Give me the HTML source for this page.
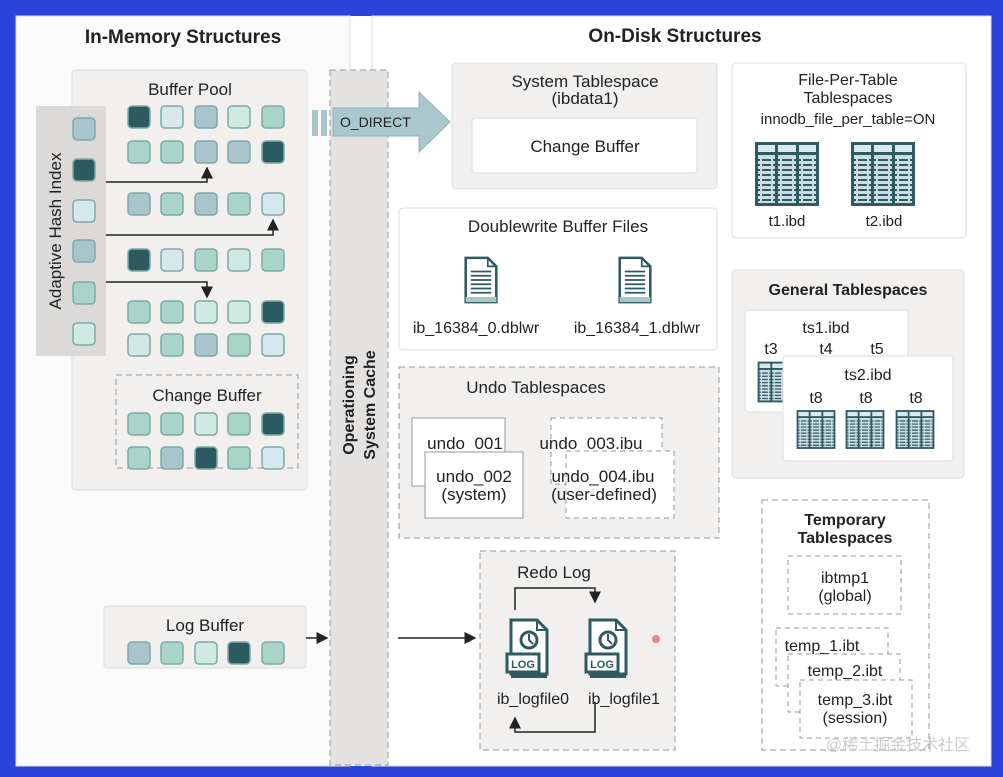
<!DOCTYPE html>
<html><head><meta charset="utf-8"><style>
html,body{margin:0;padding:0;background:#2a45d8;}
svg{display:block;}
text{font-family:"Liberation Sans",Arial,sans-serif;fill:#222;}
.b{font-weight:bold;}
</style></head><body>
<svg width="1003" height="777" viewBox="0 0 1003 777" xmlns="http://www.w3.org/2000/svg">
<defs>
<symbol id="tbl" viewBox="0 0 66 66">
<rect x="1" y="1" width="64" height="64" fill="#2f5a60"/>
<rect x="4" y="4" width="17" height="7" fill="#d8eaef"/><rect x="24" y="4" width="18" height="7" fill="#d8eaef"/><rect x="45" y="4" width="17" height="7" fill="#d8eaef"/>
<rect x="4" y="14" width="17" height="48" fill="#c9dde3"/><rect x="24" y="14" width="18" height="48" fill="#c9dde3"/><rect x="45" y="14" width="17" height="48" fill="#c9dde3"/>
<g stroke="#2f5a60" stroke-width="2">
<path d="M4 19H62M4 24H62M4 29H62M4 34H62M4 39H62M4 44H62M4 49H62M4 54H62M4 59H62"/></g>
<path d="M7 14V62M18 14V62M27 14V62M39 14V62M48 14V62M59 14V62" stroke="#c9dde3" stroke-width="2"/>
</symbol>
<symbol id="doc" viewBox="0 0 40 56">
<path d="M2 2H28L38 12V54H2Z" fill="#fff" stroke="#2f5a60" stroke-width="3"/>
<path d="M28 2V12H38" fill="none" stroke="#2f5a60" stroke-width="2"/>
<path d="M8 18H32M8 23H32M8 28H32M8 33H32M8 38H32M8 43H32" stroke="#2f5a60" stroke-width="2"/>
<rect x="2" y="48" width="36" height="6" fill="#a9c7c6"/>
</symbol>
<symbol id="log" viewBox="0 0 46 62">
<path d="M6 2H32L42 12V56H6Z" fill="#fff" stroke="#2f5a60" stroke-width="3"/>
<path d="M32 2V12H42" fill="none" stroke="#2f5a60" stroke-width="2"/>
<circle cx="24" cy="22" r="8" fill="none" stroke="#2f5a60" stroke-width="3"/>
<path d="M24 16V22L28 26" stroke="#2f5a60" stroke-width="2" fill="none"/>
<rect x="2" y="36" width="32" height="18" fill="#fff" stroke="#2f5a60" stroke-width="3"/>
<text x="18" y="50" font-size="11" text-anchor="middle" class="b" style="fill:#2f5a60">LOG</text>
<rect x="6" y="56" width="36" height="4" fill="#2f5a60"/>
</symbol>
<marker id="ar" markerWidth="8" markerHeight="8" refX="7" refY="4" orient="auto"><path d="M0 0L8 4L0 8Z" fill="#222"/></marker>
</defs>
<!-- frame -->
<rect x="16" y="16" width="975" height="750" fill="#fff"/>
<rect x="16" y="16" width="334" height="750" fill="#fafafa" stroke="#ddd"/>
<rect x="372" y="16" width="619" height="750" fill="#fff" stroke="#ddd"/>
<text x="183" y="43" font-size="19" class="b" text-anchor="middle">In-Memory Structures</text>
<text x="675" y="42" font-size="19" class="b" text-anchor="middle">On-Disk Structures</text>

<!-- buffer pool -->
<rect x="72" y="70" width="235" height="420" rx="4" fill="#f1f0ef" stroke="#ddd"/>
<text x="190" y="95" font-size="17" text-anchor="middle">Buffer Pool</text>
<rect x="36" y="106" width="70" height="250" fill="#dcdad8"/>
<text transform="translate(61,231) rotate(-90)" font-size="17" text-anchor="middle">Adaptive Hash Index</text>
<g stroke-width="1.5" stroke="#7fa9a6">
<rect x="73" y="118" width="22" height="22" rx="4" fill="#a9c4cc"/>
<rect x="73" y="159" width="22" height="22" rx="4" fill="#2b5a60"/>
<rect x="73" y="200" width="22" height="22" rx="4" fill="#d6e8ee"/>
<rect x="73" y="240" width="22" height="22" rx="4" fill="#a9c4cc"/>
<rect x="73" y="282" width="22" height="22" rx="4" fill="#a9d5c9"/>
<rect x="73" y="323" width="22" height="22" rx="4" fill="#cfeae3"/>
</g>
<g stroke-width="1.5" stroke="#7fa9a6">
<!-- row1 y106 -->
<rect x="128" y="106" width="22" height="22" rx="4" fill="#2b5a60"/><rect x="161" y="106" width="22" height="22" rx="4" fill="#d6e8ee"/><rect x="195" y="106" width="22" height="22" rx="4" fill="#a9c4cc"/><rect x="228" y="106" width="22" height="22" rx="4" fill="#cfeae3"/><rect x="262" y="106" width="22" height="22" rx="4" fill="#a9d5c9"/>
<rect x="128" y="141" width="22" height="22" rx="4" fill="#a9d5c9"/><rect x="161" y="141" width="22" height="22" rx="4" fill="#a9d5c9"/><rect x="195" y="141" width="22" height="22" rx="4" fill="#a9c4cc"/><rect x="228" y="141" width="22" height="22" rx="4" fill="#a9c4cc"/><rect x="262" y="141" width="22" height="22" rx="4" fill="#2b5a60"/>
<rect x="128" y="193" width="22" height="22" rx="4" fill="#a9c4cc"/><rect x="161" y="193" width="22" height="22" rx="4" fill="#a9d5c9"/><rect x="195" y="193" width="22" height="22" rx="4" fill="#a9c4cc"/><rect x="228" y="193" width="22" height="22" rx="4" fill="#a9d5c9"/><rect x="262" y="193" width="22" height="22" rx="4" fill="#d6e8ee"/>
<rect x="128" y="249" width="22" height="22" rx="4" fill="#2b5a60"/><rect x="161" y="249" width="22" height="22" rx="4" fill="#d6e8ee"/><rect x="195" y="249" width="22" height="22" rx="4" fill="#a9d5c9"/><rect x="228" y="249" width="22" height="22" rx="4" fill="#cfeae3"/><rect x="262" y="249" width="22" height="22" rx="4" fill="#a9d5c9"/>
<rect x="128" y="301" width="22" height="22" rx="4" fill="#a9d5c9"/><rect x="161" y="301" width="22" height="22" rx="4" fill="#a9d5c9"/><rect x="195" y="301" width="22" height="22" rx="4" fill="#cfeae3"/><rect x="228" y="301" width="22" height="22" rx="4" fill="#cfeae3"/><rect x="262" y="301" width="22" height="22" rx="4" fill="#2b5a60"/>
<rect x="128" y="334" width="22" height="22" rx="4" fill="#cfeae3"/><rect x="161" y="334" width="22" height="22" rx="4" fill="#a9d5c9"/><rect x="195" y="334" width="22" height="22" rx="4" fill="#a9c4cc"/><rect x="228" y="334" width="22" height="22" rx="4" fill="#a9d5c9"/><rect x="262" y="334" width="22" height="22" rx="4" fill="#d6e8ee"/>
</g>
<g stroke="#222" stroke-width="1.5" fill="none">
<path d="M106 182H207V168" marker-end="url(#ar)"/>
<path d="M106 235H273V220" marker-end="url(#ar)"/>
<path d="M106 282H207V297" marker-end="url(#ar)"/>
</g>
<!-- change buffer -->
<rect x="116" y="375" width="182" height="93" fill="#f1f0ef" stroke="#999" stroke-dasharray="6,4"/>
<text x="207" y="401" font-size="17" text-anchor="middle">Change Buffer</text>
<g stroke-width="1.5" stroke="#7fa9a6">
<rect x="128" y="413" width="22" height="22" rx="4" fill="#a9d5c9"/><rect x="161" y="413" width="22" height="22" rx="4" fill="#a9d5c9"/><rect x="195" y="413" width="22" height="22" rx="4" fill="#cfeae3"/><rect x="228" y="413" width="22" height="22" rx="4" fill="#a9d5c9"/><rect x="262" y="413" width="22" height="22" rx="4" fill="#2b5a60"/>
<rect x="128" y="447" width="22" height="22" rx="4" fill="#a9d5c9"/><rect x="161" y="447" width="22" height="22" rx="4" fill="#a9c4cc"/><rect x="195" y="447" width="22" height="22" rx="4" fill="#2b5a60"/><rect x="228" y="447" width="22" height="22" rx="4" fill="#a9d5c9"/><rect x="262" y="447" width="22" height="22" rx="4" fill="#d6e8ee"/>
</g>
<!-- log buffer -->
<rect x="104" y="606" width="202" height="62" rx="3" fill="#f1f0ef" stroke="#ddd"/>
<text x="205" y="631" font-size="17" text-anchor="middle">Log Buffer</text>
<g stroke-width="1.5" stroke="#7fa9a6">
<rect x="128" y="642" width="22" height="22" rx="4" fill="#a9c4cc"/><rect x="161" y="642" width="22" height="22" rx="4" fill="#a9d5c9"/><rect x="195" y="642" width="22" height="22" rx="4" fill="#cfeae3"/><rect x="228" y="642" width="22" height="22" rx="4" fill="#2b5a60"/><rect x="262" y="642" width="22" height="22" rx="4" fill="#a9d5c9"/>
</g>
<path d="M306 638H327" stroke="#222" stroke-width="1.5" marker-end="url(#ar)"/>
<path d="M398 638H475" stroke="#222" stroke-width="1.5" marker-end="url(#ar)"/>

<!-- OS cache -->
<rect x="330" y="70" width="58" height="695" fill="#e4e2e0" stroke="#999" stroke-dasharray="6,4"/>
<text transform="translate(354,405) rotate(-90)" font-size="16" class="b" text-anchor="middle">Operationing</text>
<text transform="translate(375,405) rotate(-90)" font-size="16" class="b" text-anchor="middle">System Cache</text>
<!-- O_DIRECT -->
<rect x="312" y="110" width="6" height="26" fill="#a9c7cd"/><rect x="321" y="110" width="6" height="26" fill="#a9c7cd"/>
<path d="M333 108H419V92L450 122L419 152V136H333Z" fill="#a9c7cd" stroke="#8fb1b8"/>
<text x="340" y="127" font-size="14">O_DIRECT</text>

<!-- System tablespace -->
<rect x="452" y="63" width="265" height="126" rx="4" fill="#f1f0ef" stroke="#ddd"/>
<text x="585" y="87" font-size="17" text-anchor="middle">System Tablespace</text>
<text x="585" y="104" font-size="17" text-anchor="middle">(ibdata1)</text>
<rect x="472" y="118" width="225" height="55" rx="3" fill="#fff" stroke="#ddd"/>
<text x="585" y="152" font-size="17" text-anchor="middle">Change Buffer</text>

<!-- file per table -->
<rect x="732" y="63" width="234" height="175" rx="4" fill="#fff" stroke="#ddd"/>
<text x="848" y="85" font-size="16" class="b" text-anchor="middle" style="font-weight:normal">File-Per-Table</text>
<text x="848" y="103" font-size="16" text-anchor="middle">Tablespaces</text>
<text x="848" y="124" font-size="15" text-anchor="middle">innodb_file_per_table=ON</text>
<use href="#tbl" x="754" y="141" width="66" height="66"/>
<use href="#tbl" x="850" y="141" width="66" height="66"/>
<text x="787" y="226" font-size="15" text-anchor="middle">t1.ibd</text>
<text x="884" y="226" font-size="15" text-anchor="middle">t2.ibd</text>

<!-- doublewrite -->
<rect x="399" y="208" width="318" height="142" rx="4" fill="#fff" stroke="#ddd"/>
<text x="558" y="232" font-size="17" text-anchor="middle">Doublewrite Buffer Files</text>
<use href="#doc" x="464" y="255" width="34" height="50"/>
<use href="#doc" x="618" y="255" width="34" height="50"/>
<text x="476" y="333" font-size="16" text-anchor="middle">ib_16384_0.dblwr</text>
<text x="637" y="333" font-size="16" text-anchor="middle">ib_16384_1.dblwr</text>

<!-- General -->
<rect x="732" y="270" width="232" height="208" rx="4" fill="#f1f0ef" stroke="#ddd"/>
<text x="848" y="295" font-size="16" class="b" text-anchor="middle">General Tablespaces</text>
<rect x="745" y="310" width="163" height="102" rx="3" fill="#fff" stroke="#ddd"/>
<text x="826" y="333" font-size="16" text-anchor="middle">ts1.ibd</text>
<text x="771" y="354" font-size="16" text-anchor="middle">t3</text>
<text x="826" y="354" font-size="16" text-anchor="middle">t4</text>
<text x="877" y="354" font-size="16" text-anchor="middle">t5</text>
<use href="#tbl" x="757" y="360" width="42" height="44"/>
<rect x="783" y="356" width="170" height="105" rx="3" fill="#fff" stroke="#ddd"/>
<text x="868" y="380" font-size="16" text-anchor="middle">ts2.ibd</text>
<text x="816" y="403" font-size="16" text-anchor="middle">t8</text>
<text x="866" y="403" font-size="16" text-anchor="middle">t8</text>
<text x="916" y="403" font-size="16" text-anchor="middle">t8</text>
<use href="#tbl" x="796" y="407" width="40" height="45"/>
<use href="#tbl" x="845" y="407" width="40" height="45"/>
<use href="#tbl" x="895" y="407" width="40" height="45"/>

<!-- Undo -->
<rect x="399" y="367" width="320" height="171" fill="#f1f0ef" stroke="#999" stroke-dasharray="6,4"/>
<text x="536" y="393" font-size="17" class="b" text-anchor="middle" style="font-weight:normal">Undo Tablespaces</text>
<rect x="412" y="418" width="93" height="68" fill="#fff" stroke="#999"/>
<text x="465" y="449" font-size="17" text-anchor="middle">undo_001</text>
<rect x="425" y="452" width="98" height="66" fill="#fff" stroke="#999"/>
<text x="474" y="482" font-size="17" text-anchor="middle">undo_002</text>
<text x="474" y="500" font-size="17" text-anchor="middle">(system)</text>
<rect x="551" y="418" width="111" height="66" fill="#fff" stroke="#999" stroke-dasharray="5,4"/>
<text x="591" y="449" font-size="17" text-anchor="middle">undo_003.ibu</text>
<rect x="566" y="451" width="108" height="67" fill="#fff" stroke="#999" stroke-dasharray="5,4"/>
<text x="603" y="482" font-size="17" text-anchor="middle">undo_004.ibu</text>
<text x="604" y="500" font-size="17" text-anchor="middle">(user-defined)</text>

<!-- Redo -->
<rect x="480" y="551" width="195" height="199" fill="#f1f0ef" stroke="#999" stroke-dasharray="6,4"/>
<text x="554" y="578" font-size="17" class="b" text-anchor="middle" style="font-weight:normal">Redo Log</text>
<path d="M515 610V588H595V602" fill="none" stroke="#222" stroke-width="1.5" marker-end="url(#ar)"/>
<path d="M595 702V732H515V718" fill="none" stroke="#222" stroke-width="1.5" marker-end="url(#ar)"/>
<use href="#log" x="505" y="618" width="46" height="62"/>
<use href="#log" x="584" y="618" width="46" height="62"/>
<text x="533" y="704" font-size="16" text-anchor="middle">ib_logfile0</text>
<text x="624" y="704" font-size="16" text-anchor="middle">ib_logfile1</text>
<circle cx="656" cy="639" r="4" fill="#f08080"/>

<!-- Temporary -->
<rect x="762" y="500" width="167" height="250" fill="#fff" stroke="#999" stroke-dasharray="6,4"/>
<text x="845" y="525" font-size="16" class="b" text-anchor="middle">Temporary</text>
<text x="845" y="543" font-size="16" class="b" text-anchor="middle">Tablespaces</text>
<rect x="788" y="556" width="113" height="58" fill="#fff" stroke="#999" stroke-dasharray="5,4"/>
<text x="845" y="583" font-size="16" text-anchor="middle">ibtmp1</text>
<text x="845" y="601" font-size="16" text-anchor="middle">(global)</text>
<rect x="776" y="628" width="112" height="58" fill="#fff" stroke="#999" stroke-dasharray="5,4"/>
<text x="822" y="651" font-size="16" text-anchor="middle">temp_1.ibt</text>
<rect x="788" y="654" width="112" height="58" fill="#fff" stroke="#999" stroke-dasharray="5,4"/>
<text x="845" y="676" font-size="16" text-anchor="middle">temp_2.ibt</text>
<rect x="800" y="680" width="112" height="58" fill="#fff" stroke="#999" stroke-dasharray="5,4"/>
<text x="855" y="705" font-size="16" text-anchor="middle">temp_3.ibt</text>
<text x="855" y="723" font-size="16" text-anchor="middle">(session)</text>
<text x="898" y="750" font-size="16" text-anchor="middle" style="fill:#ccc;font-family:'Liberation Sans','Noto Sans CJK SC',sans-serif">@稀土掘金技术社区</text>
</svg>
</body></html>
